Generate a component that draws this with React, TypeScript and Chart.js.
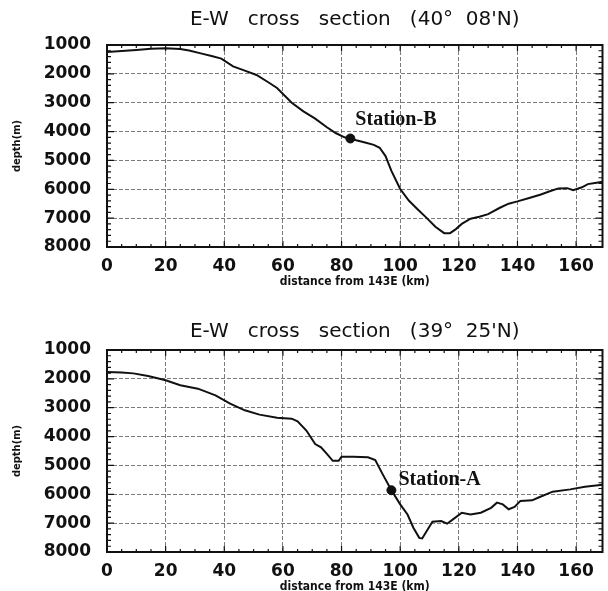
import React, { useEffect, useRef } from "react";
import { Chart, registerables } from "chart.js";

Chart.register(...registerables);

// ---- data ----
const xTickValues = [0, 20, 40, 60, 80, 100, 120, 140, 160];
const yTickValues = [1000, 2000, 3000, 4000, 5000, 6000, 7000, 8000];

const topTitle = "E-W   cross   section   (40°  08'N)";
const topKm = [0, 5, 10, 15, 20, 25, 28, 32, 36, 39, 43, 47, 51, 55, 58, 63, 67, 71, 75, 78, 81, 83, 85, 88, 91, 93, 95, 97, 100, 103, 106, 109, 112, 115, 117, 119, 121, 124, 127, 130, 134, 137, 140, 144, 148, 151, 154, 157, 159, 162, 164, 167, 169];
const topDepth = [1240, 1210, 1170, 1130, 1110, 1140, 1190, 1290, 1390, 1470, 1740, 1890, 2040, 2290, 2490, 3000, 3300, 3550, 3850, 4050, 4200, 4240, 4300, 4380, 4460, 4560, 4850, 5360, 5990, 6400, 6700, 6990, 7300, 7520, 7520, 7380, 7200, 7020, 6950, 6860, 6640, 6500, 6420, 6300, 6180, 6070, 5970, 5960, 6030, 5930, 5820, 5770, 5740];
const topStationKm = [83];
const topStationDepth = [4240];
const topStationName = "Station-B";

const bottomTitle = "E-W   cross   section   (39°  25'N)";
const bottomKm = [0, 5, 9, 14, 20, 25, 31, 37, 42, 47, 52, 58, 63, 65, 68, 71, 73, 75, 77, 79, 80, 84, 89, 91.5, 94, 97, 100, 102.5, 104.5, 106.5, 107.5, 109, 111, 114, 116, 118, 121, 124, 127.5, 131, 133, 135, 137, 139, 141, 145, 147, 152, 158, 163, 169];
const bottomDepth = [1760, 1780, 1810, 1900, 2050, 2220, 2340, 2570, 2860, 3090, 3240, 3350, 3380, 3470, 3790, 4260, 4370, 4600, 4840, 4840, 4700, 4700, 4720, 4810, 5300, 5860, 6350, 6700, 7160, 7510, 7530, 7280, 6950, 6930, 7020, 6870, 6640, 6700, 6640, 6470, 6290, 6350, 6520, 6440, 6230, 6210, 6120, 5910, 5830, 5740, 5670];
const bottomStationKm = [97];
const bottomStationDepth = [5860];
const bottomStationName = "Station-A";

const xLabel = "distance from 143E (km)";
const yLabel = "depth(m)";

// ---- plugin: frame, inward minor ticks, station label ----
const framePlugin = {
  id: "frame",
  afterDatasetsDraw(chart: any, _args: any, opts: any) {
    const { ctx, chartArea: a, scales } = chart;
    const x = scales.x;
    const y = scales.y;
    ctx.save();
    ctx.strokeStyle = "#111";
    ctx.lineWidth = 1.2;
    ctx.beginPath();
    for (let v = x.min; v <= x.max; v += 5) {
      const px = x.getPixelForValue(v);
      const len = v % 20 === 0 ? 6 : 3;
      ctx.moveTo(px, a.bottom);
      ctx.lineTo(px, a.bottom - len);
      ctx.moveTo(px, a.top);
      ctx.lineTo(px, a.top + len);
    }
    for (let v = y.min; v <= y.max; v += 200) {
      const py = y.getPixelForValue(v);
      const len = v % 1000 === 0 ? 7 : 4;
      ctx.moveTo(a.left, py);
      ctx.lineTo(a.left + len, py);
      ctx.moveTo(a.right, py);
      ctx.lineTo(a.right - len, py);
    }
    ctx.stroke();
    ctx.lineWidth = 2;
    ctx.strokeRect(a.left, a.top, a.right - a.left, a.bottom - a.top);

    if (opts && opts.label) {
      const px = x.getPixelForValue(opts.km);
      const py = y.getPixelForValue(opts.depth);
      ctx.fillStyle = "#111";
      ctx.font = "bold 20px 'Liberation Serif', serif";
      ctx.textAlign = "left";
      ctx.textBaseline = "middle";
      ctx.fillText(opts.label, px + opts.dx, py + opts.dy);
    }
    ctx.restore();
  },
};

type Cfg = {
  title: string;
  km: number[];
  depth: number[];
  stKm: number[];
  stDepth: number[];
  stName: string;
  titlePadTop: number;
  titlePadBottom: number;
  dx: number;
  dy: number;
};

const tickFont = { family: "'DejaVu Sans', sans-serif", size: 17, weight: "bold" };

function build(canvas: HTMLCanvasElement, c: Cfg) {
  const line = c.km.map((k, i) => ({ x: k, y: c.depth[i] }));
  const st = c.stKm.map((k, i) => ({ x: k, y: c.stDepth[i] }));
  return new Chart(canvas, {
    type: "scatter",
    data: {
      datasets: [
        {
          data: line,
          showLine: true,
          borderColor: "#111",
          borderWidth: 2,
          pointRadius: 0,
          tension: 0,
        },
        {
          data: st,
          showLine: false,
          pointRadius: 4.5,
          backgroundColor: "#111",
          borderColor: "#111",
        },
      ],
    },
    options: {
      animation: false,
      responsive: false,
      maintainAspectRatio: false,
      layout: { padding: { left: 0, right: 3, top: 0, bottom: 0 } },
      plugins: {
        legend: { display: false },
        tooltip: { enabled: false },
        title: {
          display: true,
          text: c.title,
          fullSize: false,
          color: "#111",
          font: { family: "'DejaVu Sans', sans-serif", size: 20, weight: "normal", lineHeight: 1.2 },
          padding: { top: c.titlePadTop, bottom: c.titlePadBottom },
        },
        frame: { label: c.stName, km: c.stKm[0], depth: c.stDepth[0], dx: c.dx, dy: c.dy },
      } as any,
      scales: {
        x: {
          type: "linear",
          min: 0,
          max: 169,
          afterFit: (s: any) => {
            s.height = 53;
          },
          afterBuildTicks: (s: any) => {
            s.ticks = xTickValues.map((v) => ({ value: v }));
          },
          ticks: {
            color: "#111",
            padding: 9,
            maxRotation: 0,
            font: tickFont,
            callback: (v: any) => String(v),
          },
          grid: {
            color: "rgba(90,90,90,0.8)",
            lineWidth: 1,
            drawTicks: false,
            tickLength: 0,
          },
          border: { display: false, dash: [4, 2] },
          title: {
            display: true,
            text: xLabel,
            color: "#111",
            font: { family: "'DejaVu Sans Condensed', 'DejaVu Sans', sans-serif", size: 12, weight: "bold", lineHeight: 1.2 },
            padding: { top: 0, bottom: 11 },
          },
        },
        y: {
          type: "linear",
          min: 1000,
          max: 8000,
          reverse: true,
          afterFit: (s: any) => {
            s.width = 107;
          },
          afterBuildTicks: (s: any) => {
            s.ticks = yTickValues.map((v) => ({ value: v }));
          },
          ticks: {
            color: "#111",
            padding: 16,
            font: tickFont,
            callback: (v: any) => String(v),
          },
          grid: {
            color: "rgba(90,90,90,0.8)",
            lineWidth: 1,
            drawTicks: false,
            tickLength: 0,
          },
          border: { display: false, dash: [4, 2] },
          title: {
            display: true,
            text: yLabel,
            color: "#111",
            font: { family: "'DejaVu Sans Condensed', 'DejaVu Sans', sans-serif", size: 11, weight: "bold", lineHeight: 1.2 },
            padding: { top: 11, bottom: 0 },
          },
        },
      },
    },
    plugins: [framePlugin],
  } as any);
}

export default function App() {
  const topRef = useRef<HTMLCanvasElement>(null);
  const botRef = useRef<HTMLCanvasElement>(null);

  useEffect(() => {
    const c1 = build(topRef.current!, {
      title: topTitle,
      km: topKm,
      depth: topDepth,
      stKm: topStationKm,
      stDepth: topStationDepth,
      stName: topStationName,
      titlePadTop: 8,
      titlePadBottom: 13,
      dx: 5,
      dy: -19,
    });
    const c2 = build(botRef.current!, {
      title: bottomTitle,
      km: bottomKm,
      depth: bottomDepth,
      stKm: bottomStationKm,
      stDepth: bottomStationDepth,
      stName: bottomStationName,
      titlePadTop: 15,
      titlePadBottom: 6,
      dx: 7,
      dy: -10,
    });
    return () => {
      c1.destroy();
      c2.destroy();
    };
  }, []);

  return (
    <div
      style={{
        position: "absolute",
        left: 0,
        top: 0,
        width: 608,
        height: 591,
        overflow: "hidden",
        background: "#fff",
      }}
    >
      <canvas
        ref={topRef}
        width={608}
        height={300}
        style={{ position: "absolute", left: 0, top: 0, width: 608, height: 300 }}
      />
      <canvas
        ref={botRef}
        width={608}
        height={300}
        style={{ position: "absolute", left: 0, top: 305, width: 608, height: 300 }}
      />
    </div>
  );
}
